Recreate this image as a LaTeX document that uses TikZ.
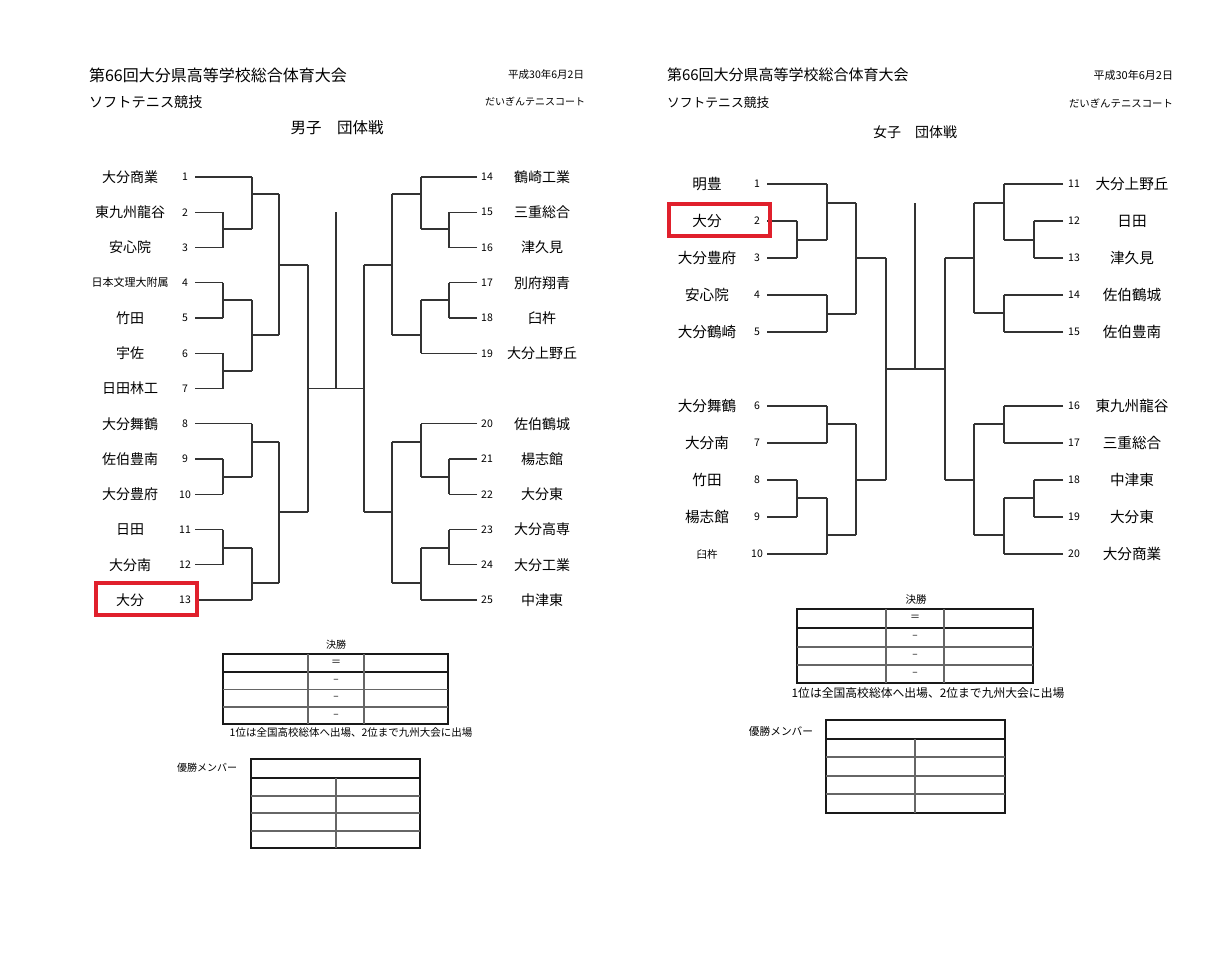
\documentclass[tikz,border=0pt]{standalone}
\usepackage{fontspec}
\setmainfont{Noto Sans CJK JP}
\usepackage{xcolor}
\usepackage{tikz}
\definecolor{hlred}{RGB}{224,32,44}

\begin{document}
\begin{tikzpicture}[
  x=1pt, y=-1pt,
  every node/.style={inner sep=0pt, outer sep=0pt},
  head/.style={font=\fontsize{16}{18}\selectfont},
  info/.style={font=\fontsize{10}{12}\selectfont},
  team/.style={font=\fontsize{14}{16}\selectfont},
  num/.style={font=\fontsize{10.5}{12}\selectfont},
  note/.style={font=\fontsize{10.5}{12}\selectfont},
  bline/.style={line width=1.2pt, draw=black!80},
  frame/.style={line width=2.2pt, draw=black!90},
  rule/.style={line width=1.1pt, draw=black!60},
  hl/.style={line width=3.8pt, draw=hlred},
]
  \useasboundingbox[fill=white] (0,0) rectangle (1230,954);

  % ---- boys: heading
  \node[head, anchor=west] (mt1) at (89,75) {第66回大分県高等学校総合体育大会};
  \node[head, anchor=west, font=\fontsize{14.2}{16}\selectfont] (mt2) at (89,102) {ソフトテニス競技};
  \node[info, anchor=east, font=\fontsize{10.5}{12}\selectfont] (md1) at (584,75) {平成30年6月2日};
  \node[info, anchor=east] (md2) at (585,102) {だいぎんテニスコート};
  \node[head, font=\fontsize{15.5}{18}\selectfont] (mtt) at (337,128) {男子　団体戦};

  % ---- boys: teams
  \foreach \k/\n/\t/\e in {0/1/大分商業/252, 1/2/東九州龍谷/223, 2/3/安心院/223,
      3/4/{\fontsize{11}{13}\selectfont 日本文理大附属}/223, 4/5/竹田/223, 5/6/宇佐/223,
      6/7/日田林工/223, 7/8/大分舞鶴/252, 8/9/佐伯豊南/223, 9/10/大分豊府/223,
      10/11/日田/223, 11/12/大分南/223, 12/13/大分/252}{
    \node[team] (m\n) at (130,177+35.25*\k) {\t};
    \node[num] (mn\n) at (185,177+35.25*\k) {\n};
    \draw[bline] (195,177+35.25*\k) -- (\e,177+35.25*\k);
  }
  \foreach \k/\n/\t/\e in {0/14/鶴崎工業/421, 1/15/三重総合/449, 2/16/津久見/449,
      3/17/別府翔青/449, 4/18/臼杵/449, 5/19/大分上野丘/421, 7/20/佐伯鶴城/421,
      8/21/楊志館/449, 9/22/大分東/449, 10/23/大分高専/449, 11/24/大分工業/449,
      12/25/中津東/421}{
    \node[team] (m\n) at (542,177+35.25*\k) {\t};
    \node[num] (mn\n) at (487,177+35.25*\k) {\n};
    \draw[bline] (477,177+35.25*\k) -- (\e,177+35.25*\k);
  }

  % ---- boys: bracket (vertical x / top / bottom / join / next x)
  \foreach \v/\a/\b/\j/\w in {223/212.25/247.5/229/252, 252/177/229/194/279,
      223/282.75/318/300/252, 223/353.25/388.5/371/252, 252/300/371/335/279,
      279/194/335/265/308, 223/459/494.25/477/252, 252/423.75/477/442/279,
      223/529.5/564.75/548/252, 252/548/600/583/279, 279/442/583/512/308,
      308/265/512/388.5/364,
      449/212.25/247.5/229/421, 421/177/229/194/392, 449/282.75/318/300/421,
      421/300/353.25/335/392, 392/194/335/265/364, 449/459/494.25/477/421,
      421/423.75/477/442/392, 449/529.5/564.75/548/421, 421/548/600/583/392,
      392/442/583/512/364, 364/265/512/388.5/336}{
    \draw[bline] (\v,\a) -- (\v,\b) (\v,\j) -- (\w,\j);
  }
  \draw[bline] (336,212) -- (336,388.5);
  \draw[hl] (96,583) rectangle (197,615);

  % ---- boys: final and members
  \node[info] (mfin) at (336,645) {決勝};
  \draw[frame] (223,654) rectangle (448,724);
  \draw[frame] (223,672) -- (448,672);
  \draw[rule] (223,689.5) -- (448,689.5) (223,707) -- (448,707)
              (308,654) -- (308,724) (364,654) -- (364,724);
  \node[info] (ms0) at (336,663) {＝};
  \foreach \y [count=\i] in {681,698,716}
    \node[info] (ms\i) at (336,\y) {–};
  \node[note] (mnote) at (351,733) {1位は全国高校総体へ出場、2位まで九州大会に出場};
  \node[info] (mmem) at (207,768) {優勝メンバー};
  \draw[frame] (251,759) rectangle (420,848);
  \draw[frame] (251,778) -- (420,778);
  \draw[rule] (251,796) -- (420,796) (251,813) -- (420,813) (251,831) -- (420,831)
              (336,778) -- (336,848);

  % ---- girls: heading
  \node[head, anchor=west, font=\fontsize{15}{18}\selectfont] (wt1) at (667,75) {第66回大分県高等学校総合体育大会};
  \node[head, anchor=west, font=\fontsize{12.8}{15}\selectfont] (wt2) at (667,103) {ソフトテニス競技};
  \node[info, anchor=east, font=\fontsize{11}{13}\selectfont] (wd1) at (1173,75) {平成30年6月2日};
  \node[info, anchor=east, font=\fontsize{10.4}{12}\selectfont] (wd2) at (1173,103) {だいぎんテニスコート};
  \node[head, font=\fontsize{14}{16}\selectfont] (wtt) at (915,132) {女子　団体戦};

  % ---- girls: teams
  \foreach \k/\n/\t/\e in {0/1/明豊/827, 1/2/大分/797, 2/3/大分豊府/797, 3/4/安心院/827,
      4/5/大分鶴崎/827, 6/6/大分舞鶴/827, 7/7/大分南/827, 8/8/竹田/797, 9/9/楊志館/797,
      10/10/{\fontsize{10.5}{12}\selectfont 臼杵}/827}{
    \node[team, font=\fontsize{14.6}{16}\selectfont] (w\n) at (707,184+37*\k) {\t};
    \node[num] (wn\n) at (757,184+37*\k) {\n};
    \draw[bline] (767,184+37*\k) -- (\e,184+37*\k);
  }
  \foreach \k/\n/\t/\e in {0/11/大分上野丘/1004, 1/12/日田/1034, 2/13/津久見/1034,
      3/14/佐伯鶴城/1004, 4/15/佐伯豊南/1004, 6/16/東九州龍谷/1004, 7/17/三重総合/1004,
      8/18/中津東/1034, 9/19/大分東/1034, 10/20/大分商業/1004}{
    \node[team, font=\fontsize{14.6}{16}\selectfont] (w\n) at (1132,184+37*\k) {\t};
    \node[num] (wn\n) at (1074,184+37*\k) {\n};
    \draw[bline] (1063,184+37*\k) -- (\e,184+37*\k);
  }

  % ---- girls: bracket
  \foreach \v/\a/\b/\j/\w in {797/221/258/240/827, 827/184/240/203/856,
      827/295/332/314/856, 856/203/314/258/886, 827/406/443/424/856,
      797/480/517/498/827, 827/498/554/535/856, 856/424/535/480/886,
      886/258/480/369/945,
      1034/221/258/240/1004, 1004/184/240/203/974, 1004/295/332/313/974,
      974/203/313/258/945, 1004/406/443/424/974, 1034/480/517/498/1004,
      1004/498/554/535/974, 974/424/535/480/945, 945/258/480/369/915}{
    \draw[bline] (\v,\a) -- (\v,\b) (\v,\j) -- (\w,\j);
  }
  \draw[bline] (915,203) -- (915,369);
  \draw[hl] (669,204) rectangle (770,236);

  % ---- girls: final and members
  \node[info, font=\fontsize{10.5}{12}\selectfont] (wfin) at (916,600) {決勝};
  \draw[frame] (797,609) rectangle (1033,683);
  \draw[frame] (797,628) -- (1033,628);
  \draw[rule] (797,647) -- (1033,647) (797,665) -- (1033,665)
              (886,609) -- (886,683) (944,609) -- (944,683);
  \node[info] (ws0) at (915,618) {＝};
  \foreach \y [count=\i] in {637,656,674}
    \node[info] (ws\i) at (915,\y) {–};
  \node[note, font=\fontsize{11.8}{13}\selectfont] (wnote) at (928,693) {1位は全国高校総体へ出場、2位まで九州大会に出場};
  \node[info, font=\fontsize{10.7}{12}\selectfont] (wmem) at (781,731) {優勝メンバー};
  \draw[frame] (826,720) rectangle (1005,813);
  \draw[frame] (826,739) -- (1005,739);
  \draw[rule] (826,757) -- (1005,757) (826,776) -- (1005,776) (826,794) -- (1005,794)
              (915,739) -- (915,813);
\end{tikzpicture}
\end{document}
